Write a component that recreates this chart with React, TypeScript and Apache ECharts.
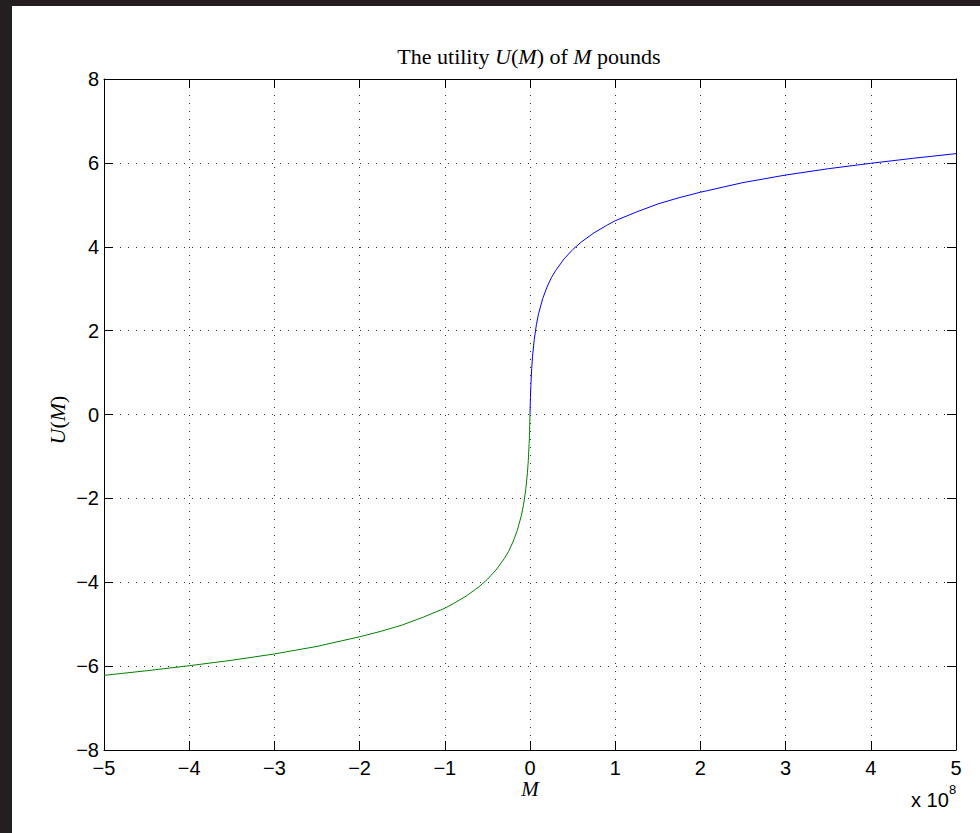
import React, { useEffect, useRef } from "react";
import * as echarts from "echarts";

// M in units of 1e8 pounds, U(M) utility
const posM = [0, 0.002, 0.005, 0.01, 0.02, 0.03, 0.05, 0.075, 0.1, 0.15, 0.2, 0.25, 0.3, 0.4, 0.5, 0.6, 0.75, 0.9, 1.0, 1.25, 1.5, 1.75, 2.0, 2.5, 3.0, 3.5, 4.0, 4.5, 5.0];
const posU = [0, 0.18, 0.41, 0.69, 1.10, 1.39, 1.79, 2.14, 2.40, 2.77, 3.04, 3.26, 3.43, 3.71, 3.93, 4.11, 4.33, 4.51, 4.62, 4.83, 5.02, 5.17, 5.30, 5.53, 5.71, 5.86, 5.99, 6.11, 6.22];
const negM = [0, -0.002, -0.005, -0.01, -0.02, -0.03, -0.05, -0.075, -0.1, -0.15, -0.2, -0.25, -0.3, -0.4, -0.5, -0.6, -0.75, -0.9, -1.0, -1.25, -1.5, -1.75, -2.0, -2.5, -3.0, -3.5, -4.0, -4.5, -5.0];
const negU = [0, -0.18, -0.41, -0.69, -1.10, -1.39, -1.79, -2.14, -2.40, -2.77, -3.04, -3.26, -3.43, -3.71, -3.93, -4.11, -4.33, -4.51, -4.62, -4.83, -5.02, -5.17, -5.30, -5.53, -5.71, -5.86, -5.99, -6.11, -6.22];

const xMin = -5, xMax = 5, xStep = 1;
const yMin = -8, yMax = 8, yStep = 2;

const fmt = (v: number) => String(v).replace("-", "\u2212");

export default function App() {
  const ref = useRef<HTMLDivElement>(null);
  useEffect(() => {
    if (!ref.current) return;
    const chart = echarts.init(ref.current, undefined, { renderer: "svg" });
    const tickFont = { fontFamily: "Liberation Sans", fontSize: 20, color: "#000" };
    const gridLine = { show: true, lineStyle: { color: "#333", width: 1, type: [1, 7] as any } };
    const axisLine = { show: true, onZero: false, lineStyle: { color: "#000", width: 1 } };
    const tick = { show: true, inside: true, length: 9, lineStyle: { color: "#000", width: 1 } };
    const serif = "Liberation Serif";
    chart.setOption({
      animation: false,
      backgroundColor: "#fff",
      grid: { left: 92, top: 73, width: 852, height: 671, containLabel: false },
      xAxis: [
        {
          type: "value", min: xMin, max: xMax, interval: xStep, position: "bottom",
          axisLine, axisTick: tick, splitLine: gridLine,
          axisLabel: { ...tickFont, margin: 8, formatter: fmt },
        },
        {
          type: "value", min: xMin, max: xMax, interval: xStep, position: "top",
          axisLine, axisTick: tick, splitLine: { show: false }, axisLabel: { show: false },
        },
      ],
      yAxis: [
        {
          type: "value", min: yMin, max: yMax, interval: yStep, position: "left",
          axisLine, axisTick: tick, splitLine: gridLine,
          axisLabel: { ...tickFont, margin: 5, formatter: fmt },
        },
        {
          type: "value", min: yMin, max: yMax, interval: yStep, position: "right",
          axisLine, axisTick: tick, splitLine: { show: false }, axisLabel: { show: false },
        },
      ],
      series: [
        {
          type: "line", xAxisIndex: 0, yAxisIndex: 0, showSymbol: false, smooth: false,
          data: posM.map((m, i) => [m, posU[i]]),
          lineStyle: { color: "#0000ff", width: 1 }, itemStyle: { color: "#0000ff" },
        },
        {
          type: "line", xAxisIndex: 0, yAxisIndex: 0, showSymbol: false, smooth: false,
          data: negM.map((m, i) => [m, negU[i]]),
          lineStyle: { color: "#008000", width: 1 }, itemStyle: { color: "#008000" },
        },
      ],
      graphic: [
        {
          type: "text", x: 517, y: 50,
          style: {
            text: "The utility {i|U}({i|M}) of {i|M} pounds",
            fontFamily: serif, fontSize: 22, fill: "#000",
            align: "center", verticalAlign: "middle",
            rich: { i: { fontStyle: "italic", fontFamily: serif, fontSize: 22 } },
          },
        },
        {
          type: "text", x: 518, y: 783,
          style: {
            text: "M", fontFamily: serif, fontStyle: "italic", fontSize: 21, fill: "#000",
            align: "center", verticalAlign: "middle",
          },
        },
        {
          type: "text", x: 45, y: 414, rotation: Math.PI / 2,
          style: {
            text: "{i|U}({i|M})", fontFamily: serif, fontSize: 22, fill: "#000",
            align: "center", verticalAlign: "middle",
            rich: { i: { fontStyle: "italic", fontFamily: serif, fontSize: 22 } },
          },
        },
        {
          type: "text", x: 899, y: 794,
          style: {
            text: "x 10", fontFamily: "Liberation Sans", fontSize: 20, fill: "#000",
            align: "left", verticalAlign: "middle",
          },
        },
        {
          type: "text", x: 937, y: 783,
          style: {
            text: "8", fontFamily: "Liberation Sans", fontSize: 13, fill: "#000",
            align: "left", verticalAlign: "middle",
          },
        },
      ],
    });
    return () => chart.dispose();
  }, []);
  return (
    <div style={{ position: "fixed", left: 0, top: 0, width: 980, height: 833, background: "#231f20" }}>
      <div style={{ position: "absolute", left: 12, top: 6, width: 968, height: 827, background: "#fff" }}>
        <div ref={ref} style={{ width: 968, height: 827 }} />
      </div>
    </div>
  );
}
